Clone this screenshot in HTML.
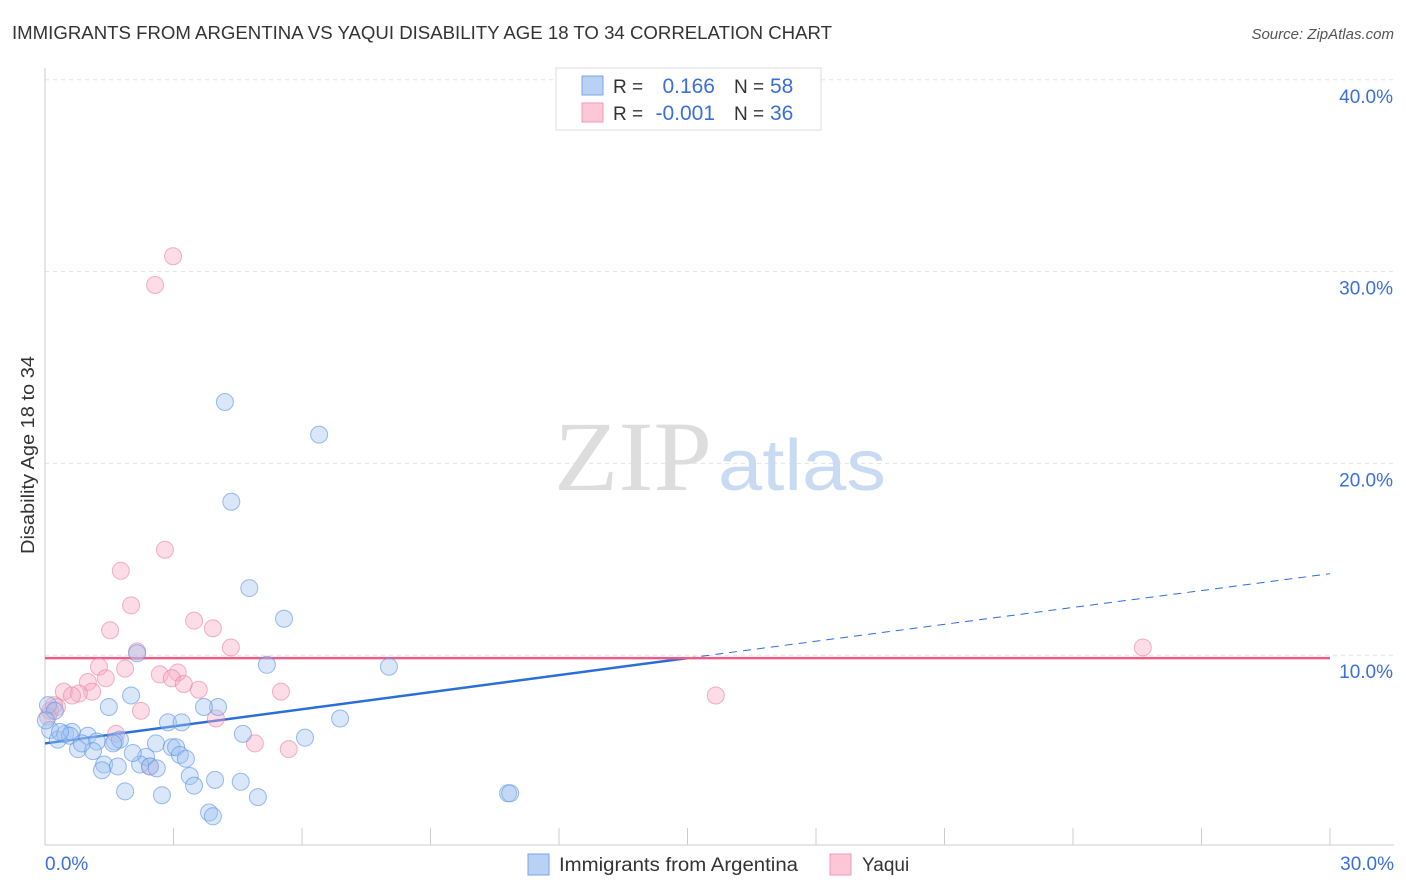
<!DOCTYPE html>
<html><head><meta charset="utf-8"><style>
body{margin:0;background:#fff;font-family:"Liberation Sans",sans-serif;}
svg{display:block}
</style></head><body>
<svg id="chart" width="1406" height="892" xmlns="http://www.w3.org/2000/svg">
<text x="12" y="39" font-size="18" fill="#333" textLength="820" lengthAdjust="spacingAndGlyphs">IMMIGRANTS FROM ARGENTINA VS YAQUI DISABILITY AGE 18 TO 34 CORRELATION CHART</text>
<text x="1394" y="39" font-size="15" fill="#555" font-style="italic" text-anchor="end">Source: ZipAtlas.com</text>
<g id="grid"></g>
<g id="axes"></g>
<text x="554" y="490" font-size="100" fill="#ddd" font-family="Liberation Serif,serif" textLength="158" lengthAdjust="spacingAndGlyphs">ZIP</text>
<text x="718" y="490" font-size="72" fill="#c9daf3" textLength="168" lengthAdjust="spacingAndGlyphs">atlas</text>
<g id="lines"></g>
<g id="points"></g>
<text transform="translate(34,455) rotate(-90)" font-size="18" fill="#333" text-anchor="middle" textLength="198" lengthAdjust="spacingAndGlyphs">Disability Age 18 to 34</text>
<text x="45" y="870" font-size="19" fill="#3a6fd8">0.0%</text>
<text x="1394" y="870" font-size="19" fill="#3a6fd8" text-anchor="end">30.0%</text>
<g>
<rect x="556" y="68" width="265" height="62" fill="#fff" stroke="#ddd"/>
<rect x="582" y="76" width="21" height="19" fill="#b8d1f5" stroke="#7ba4e6"/>
<rect x="582" y="103" width="21" height="19" fill="#fcc8d8" stroke="#ef9ab6"/>
<text x="613" y="93" font-size="19" fill="#333">R =</text>
<text x="715" y="93" font-size="21" fill="#3a6fd8" text-anchor="end">0.166</text>
<text x="734" y="93" font-size="19" fill="#333">N =</text>
<text x="770" y="93" font-size="21" fill="#3a6fd8">58</text>
<text x="613" y="120" font-size="19" fill="#333">R =</text>
<text x="715" y="120" font-size="21" fill="#3a6fd8" text-anchor="end">-0.001</text>
<text x="734" y="120" font-size="19" fill="#333">N =</text>
<text x="770" y="120" font-size="21" fill="#3a6fd8">36</text>
</g>
<g>
<rect x="528" y="854" width="21" height="21" fill="#b8d1f5" stroke="#7ba4e6"/>
<text x="559" y="871" font-size="19" fill="#333" textLength="239" lengthAdjust="spacingAndGlyphs">Immigrants from Argentina</text>
<rect x="830" y="854" width="21" height="21" fill="#fcc8d8" stroke="#ef9ab6"/>
<text x="862" y="871" font-size="19" fill="#333">Yaqui</text>
</g>
</svg>
<script>
const yTicks=[10,20,30,40];
const yTickLabels=["10.0%","20.0%","30.0%","40.0%"];
const xTicks=[0,3,6,9,12,15,18,21,24,27,30];
const blueX=[4.2,6.4,4.35,4.77,5.58,2.15,5.18,8.03,2.01,1.49,4.04,3.71,6.89,2.87,3.19,4.62,6.07,0.07,0.12,0.3,0.47,0.63,0.58,1.0,1.21,1.63,1.75,0.77,1.12,1.59,2.59,2.96,3.06,2.36,2.22,3.15,3.29,1.38,1.7,1.33,2.45,2.61,3.38,3.48,3.97,4.57,1.87,2.73,4.97,3.83,3.92,10.81,10.86,0.35,0.86,2.05,0.23,0.02];
const blueY=[23.2,21.5,18.0,13.5,11.9,10.1,9.5,9.4,7.9,7.3,7.3,7.3,6.7,6.5,6.5,5.9,5.7,7.4,6.1,5.6,5.9,6.0,5.8,5.8,5.5,5.5,5.6,5.1,5.0,5.4,5.4,5.2,5.2,4.7,4.3,4.8,4.6,4.3,4.2,4.0,4.2,4.1,3.7,3.2,3.5,3.4,2.9,2.7,2.6,1.8,1.6,2.8,2.8,6.0,5.4,4.9,7.1,6.6];
const pinkX=[2.99,2.57,2.8,1.77,2.01,3.48,3.92,1.52,4.34,2.15,1.26,1.87,2.68,3.1,2.96,3.24,1.42,1.0,3.59,5.51,0.44,1.1,0.79,0.63,2.24,0.12,0.28,3.99,1.66,4.9,5.69,2.45,25.63,15.66,0.21,0.07];
const pinkY=[30.8,29.3,15.5,14.4,12.6,11.8,11.4,11.3,10.4,10.2,9.4,9.3,9.0,9.1,8.8,8.5,8.8,8.6,8.2,8.1,8.1,8.1,8.0,7.9,7.1,7.1,7.3,6.7,5.9,5.4,5.1,4.2,10.4,7.9,7.4,6.8];
const blueFit=[5.4,9.85]; // y at x=0 and x=15
const blueFitEnd=14.25; // y at x=30
const pinkFit=9.85;
const NS="http://www.w3.org/2000/svg";
const X0=45,X1=1330,YB=847,YPER=19.18;
const sx=v=>X0+(X1-X0)*v/30, sy=v=>YB-v*YPER;
function mk(tag,attrs,parent){const e=document.createElementNS(NS,tag);for(const k in attrs)e.setAttribute(k,attrs[k]);document.getElementById(parent).appendChild(e);return e;}
yTicks.forEach((t,i)=>{
 const l=mk('line',{x1:X0,x2:1394,y1:sy(t),y2:sy(t),stroke:'#e3e3e3','stroke-dasharray':'4,4'},'grid');
 
 
 const tx=mk('text',{x:1393,y:sy(t)+23,'font-size':19,fill:'#3a6fd8','text-anchor':'end'},'grid');
 tx.textContent=yTickLabels[i];
 
 
});
const ax=mk('line',{x1:X0,x2:X0,y1:68,y2:845,stroke:'#ccc'},'axes');


const bx=mk('line',{x1:X0,x2:1394,y1:845,y2:845,stroke:'#ccc'},'axes');


xTicks.forEach(t=>{
 const l=mk('line',{x1:sx(t),x2:sx(t),y1:828,y2:845,stroke:'#ccc'},'axes');
 
 
});
pinkX.forEach((x,i)=>{
 const c=mk('circle',{cx:sx(x),cy:sy(pinkY[i]),r:8.5,fill:'rgba(247,170,195,0.4)',stroke:'rgba(232,130,160,0.6)','stroke-width':1},'points');
 
 
});
blueX.forEach((x,i)=>{
 const c=mk('circle',{cx:sx(x),cy:sy(blueY[i]),r:8.5,fill:'rgba(160,195,240,0.4)',stroke:'rgba(90,145,225,0.6)','stroke-width':1},'points');
 
 
});
const b1=mk('line',{x1:sx(0),y1:sy(blueFit[0]),x2:sx(15),y2:sy(blueFit[1]),stroke:'#2a6fd8','stroke-width':2.5},'lines');


const b2=mk('line',{x1:sx(15),y1:sy(blueFit[1]),x2:sx(30),y2:sy(blueFitEnd),stroke:'#2a6fd8','stroke-width':1,'stroke-dasharray':'8,6'},'lines');


const p1=mk('line',{x1:sx(0),y1:sy(pinkFit),x2:sx(30),y2:sy(pinkFit),stroke:'#e8608a','stroke-width':2.5},'lines');


</script>
</body></html>
